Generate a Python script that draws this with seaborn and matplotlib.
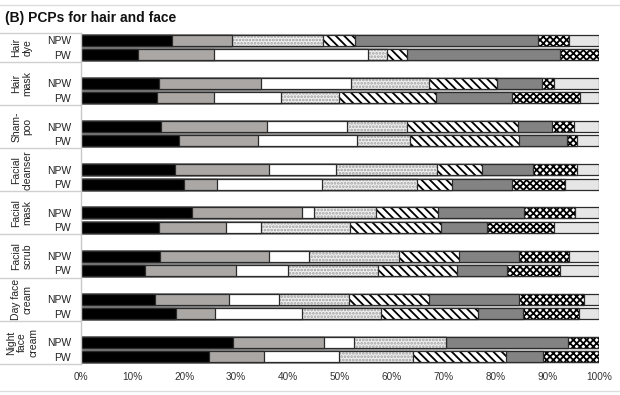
import matplotlib

matplotlib.use("Agg")
import matplotlib.pyplot as plt
import pandas as pd
import seaborn as sns
from matplotlib.lines import Line2D

# products (group labels) and the two groups compared inside each product
PRODUCTS = [
    "Hair\ndye",
    "Hair\nmask",
    "Sham-\npoo",
    "Facial\ncleanser",
    "Facial\nmask",
    "Facial\nscrub",
    "Day face\ncream",
    "Night\nface\ncream",
]
GROUPS = ["NPW", "PW"]
LEVELS = ["L1", "L2", "L3", "L4", "L5", "L6", "L7", "L8"]

# share (%) per response level; rows go product by product: NPW, PW
level_1 = [17.6, 11.0, 15.2, 14.8, 15.5, 18.9, 18.3, 19.9, 21.4, 15.2, 15.4, 12.4, 14.4, 18.4, 29.4, 24.8]
level_2 = [11.6, 14.7, 19.5, 10.9, 20.4, 15.4, 18.1, 6.5, 21.3, 12.8, 21.0, 17.5, 14.2, 7.6, 17.5, 10.6]
level_3 = [0.0, 29.8, 17.4, 13.0, 15.5, 18.9, 12.8, 20.1, 2.4, 6.7, 7.7, 10.0, 9.7, 16.6, 5.9, 14.4]
level_4 = [17.6, 3.6, 15.1, 11.2, 11.6, 10.4, 19.6, 18.4, 11.8, 17.2, 17.3, 17.5, 13.4, 15.4, 17.6, 14.2]
level_5 = [6.1, 3.9, 13.1, 18.6, 21.4, 20.9, 8.6, 6.7, 12.0, 17.5, 11.6, 15.1, 15.5, 18.6, 0.0, 18.1]
level_6 = [35.2, 29.4, 8.7, 14.7, 6.4, 9.3, 9.8, 11.6, 16.6, 8.9, 11.5, 9.8, 17.3, 8.6, 23.6, 7.1]
level_7 = [6.0, 7.6, 2.3, 13.0, 4.3, 1.9, 8.5, 10.2, 9.8, 13.0, 9.7, 10.2, 12.6, 10.9, 6.0, 10.8]
level_8 = [5.9, 0.0, 8.7, 3.8, 4.9, 4.3, 4.3, 6.6, 4.7, 8.7, 5.8, 7.5, 2.9, 3.9, 0.0, 0.0]

X_TICKS = [0, 10, 20, 30, 40, 50, 60, 70, 80, 90, 100]
X_TICK_LABELS = [f"{v}%" for v in X_TICKS]

# fill styles per level: (facecolor, hatch, hatch colour)
FILLS = [
    ("#000000", None, "#000000"),
    ("#aba7a4", None, "#aba7a4"),
    ("#ffffff", None, "#ffffff"),
    ("#f0f0f0", ".....", "#a0a0a0"),
    ("#ffffff", "\\\\\\\\", "#000000"),
    ("#838383", None, "#838383"),
    ("#ffffff", "xxxxx", "#000000"),
    ("#e6e6e6", None, "#e6e6e6"),
]
EDGE = "#2b2b2b"
BAR_WIDTH = 0.77


def build_frame() -> pd.DataFrame:
    values = [level_1, level_2, level_3, level_4, level_5, level_6, level_7, level_8]
    records = []
    n = 0
    for p_idx, product in enumerate(PRODUCTS):
        for group in GROUPS:
            rec = {"row": f"{p_idx}-{group}", "product": product, "group": group}
            total = 0.0
            for k, level in enumerate(LEVELS):
                total += values[k][n]
                rec[f"cum_{level}"] = total
            records.append(rec)
            n += 1
    return pd.DataFrame(records)


def main() -> None:
    sns.set_theme(style="white")
    plt.rcParams["font.family"] = ["Liberation Sans", "DejaVu Sans"]
    plt.rcParams["hatch.linewidth"] = 1.3

    df = build_frame()
    row_order = []
    for p_idx in range(len(PRODUCTS)):
        row_order += [f"{p_idx}-blank", f"{p_idx}-NPW", f"{p_idx}-PW"]

    fig = plt.figure(figsize=(6.2, 3.95), dpi=100)
    ax = fig.add_axes([80.5 / 620, 31 / 395, 518.8 / 620, 331 / 395])

    # draw cumulative layers from the last level backwards so they stack
    for k in reversed(range(len(LEVELS))):
        face, hatch, hatch_color = FILLS[k]
        col = f"cum_{LEVELS[k]}"
        sns.barplot(data=df, x=col, y="row", order=row_order, orient="h",
                    color=face, saturation=1, width=BAR_WIDTH, errorbar=None, ax=ax)
        for patch in ax.containers[-1]:
            patch.set_facecolor(face)
            patch.set_edgecolor(hatch_color)
            patch.set_linewidth(0)
            if hatch:
                patch.set_hatch(hatch)
        sns.barplot(data=df, x=col, y="row", order=row_order, orient="h",
                    color=EDGE, saturation=1, width=BAR_WIDTH, errorbar=None, ax=ax)
        for patch in ax.containers[-1]:
            patch.set_facecolor("none")
            patch.set_edgecolor(EDGE)
            patch.set_linewidth(0.9)

    ax.set_xlim(0, 100)
    ax.set_ylim(23.5, 0.5)
    ax.set_xlabel("")
    ax.set_ylabel("")

    ytick_pos = []
    ytick_lab = []
    for p_idx in range(len(PRODUCTS)):
        ytick_pos += [3 * p_idx + 1, 3 * p_idx + 2]
        ytick_lab += GROUPS
    ax.set_yticks(ytick_pos)
    ax.set_yticklabels(ytick_lab, fontsize=7.5, color="#222222")
    ax.set_xticks(X_TICKS)
    ax.set_xticklabels(X_TICK_LABELS, fontsize=7.2, color="#333333")
    ax.tick_params(axis="y", length=0, pad=7)
    ax.tick_params(axis="x", length=0, pad=6)

    for side in ["top", "right", "bottom"]:
        ax.spines[side].set_visible(False)
    ax.spines["left"].set_color("#c8c8c8")
    ax.spines["left"].set_linewidth(1.0)

    # product labels and separators in the left margin
    ytrans = ax.get_yaxis_transform()
    for p_idx, product in enumerate(PRODUCTS):
        top = max(3 * p_idx - 0.5, 0.5)
        bottom = 3 * p_idx + 2.5
        ax.text(-0.113, (top + bottom) / 2, product, transform=ytrans, rotation=90,
                ha="center", va="center", fontsize=7.5, color="#222222",
                linespacing=1.15, multialignment="center", clip_on=False)
    for y in [0.5] + [3 * i + 2.5 for i in range(len(PRODUCTS))]:
        ax.plot([-0.155, 0], [y, y], transform=ytrans, color="#d0d0d0",
                linewidth=1.0, clip_on=False)

    fig.text(0.008, 1 - 18 / 395, "(B) PCPs for hair and face", fontsize=10,
             fontweight="bold", ha="left", va="center", color="#111111")
    for y in [1 - 5 / 395, 1 - 391 / 395]:
        fig.add_artist(Line2D([0, 1], [y, y], transform=fig.transFigure,
                              color="#dddddd", linewidth=1.0))

    fig.savefig("out.png", dpi=100)
    plt.close(fig)


if __name__ == "__main__":
    main()
